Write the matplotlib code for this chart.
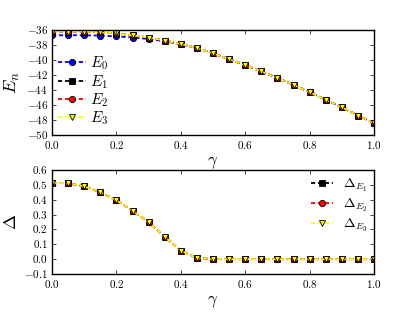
import numpy as np
import matplotlib
matplotlib.use('Agg')
import matplotlib.pyplot as plt
from matplotlib.ticker import FuncFormatter

plt.style.use('classic')
plt.rcParams['mathtext.fontset'] = 'cm'
plt.rcParams['figure.facecolor'] = 'white'

gamma = [0.0, 0.05, 0.1, 0.15, 0.2, 0.25, 0.3, 0.35, 0.4, 0.45, 0.5,
         0.55, 0.6, 0.65, 0.7, 0.75, 0.8, 0.85, 0.9, 0.95, 1.0]

# energies
E0 = [-36.7, -36.7, -36.7, -36.75, -36.85, -37.0, -37.2, -37.5, -37.9, -38.4, -39.1,
      -39.9, -40.7, -41.5, -42.4, -43.3, -44.3, -45.3, -46.3, -47.4, -48.4]
E1 = [-36.2, -36.2, -36.2, -36.3, -36.45, -36.7, -37.0, -37.4, -37.85, -38.4, -39.1,
      -39.9, -40.7, -41.5, -42.4, -43.3, -44.3, -45.3, -46.3, -47.4, -48.4]
E2 = list(E1)
E3 = list(E1)

# gaps
D1 = [0.515, 0.51, 0.49, 0.45, 0.396, 0.326, 0.248, 0.15, 0.057, 0.008, 0.0,
      0.0, 0.0, 0.0, 0.0, 0.0, 0.0, 0.0, 0.0, 0.0, 0.0]
D2 = list(D1)
D3 = list(D1)

def mfmt(fmt):
    return FuncFormatter(lambda v, p: '$' + (fmt % v) + '$')

fig = plt.figure(figsize=(4.15, 3.12), dpi=100)
ax1 = fig.add_axes([52/415, 1 - 135/312, 322/415, 105/312])
ax2 = fig.add_axes([52/415, 1 - 274/312, 322/415, 104/312])

kw = dict(ls='--', lw=1.3, ms=4.5, mec='k', mew=0.6, dashes=(3, 2))
ax1.plot(gamma, E0, color='b', marker='o', label=r'$E_0$', **kw)
ax1.plot(gamma, E1, color='k', marker='s', label=r'$E_1$', **kw)
ax1.plot(gamma, E2, color='r', marker='o', label=r'$E_2$', **kw)
ax1.plot(gamma, E3, color='yellow', marker='v', label=r'$E_3$', **kw)
ax1.set_xlim(0, 1)
ax1.set_ylim(-50, -36)
ax1.set_yticks(np.arange(-50, -35, 2))
ax1.xaxis.set_major_formatter(mfmt('%.1f'))
ax1.yaxis.set_major_formatter(mfmt('%d'))
ax1.set_xlabel(r'$\gamma$', fontsize=12, labelpad=1)
ax1.set_ylabel(r'$E_n$', fontsize=13, labelpad=3)
ax1.legend(loc='center left', bbox_to_anchor=(0.0, 0.42), frameon=False,
           numpoints=1, fontsize=11, handlelength=1.8, labelspacing=0.05,
           handletextpad=0.3, borderaxespad=0.0)

ax2.plot(gamma, D1, color='k', marker='s', label=r'$\Delta_{E_1}$', **kw)
ax2.plot(gamma, D2, color='r', marker='o', label=r'$\Delta_{E_2}$', **kw)
ax2.plot(gamma, D3, color='yellow', marker='v', label=r'$\Delta_{E_3}$', **kw)
ax2.set_xlim(0, 1)
ax2.set_ylim(-0.1, 0.6)
ax2.set_yticks(np.arange(-0.1, 0.61, 0.1))
ax2.xaxis.set_major_formatter(mfmt('%.1f'))
ax2.yaxis.set_major_formatter(mfmt('%.1f'))
ax2.set_xlabel(r'$\gamma$', fontsize=12, labelpad=1)
ax2.set_ylabel(r'$\Delta$', fontsize=13, labelpad=3)
ax2.legend(loc='upper right', frameon=False, numpoints=1, fontsize=10,
           handlelength=1.6, labelspacing=0.2, handletextpad=0.7,
           borderaxespad=0.1)

for ax in (ax1, ax2):
    ax.tick_params(labelsize=8, length=3, pad=3)

fig.savefig('out.png', dpi=100)
